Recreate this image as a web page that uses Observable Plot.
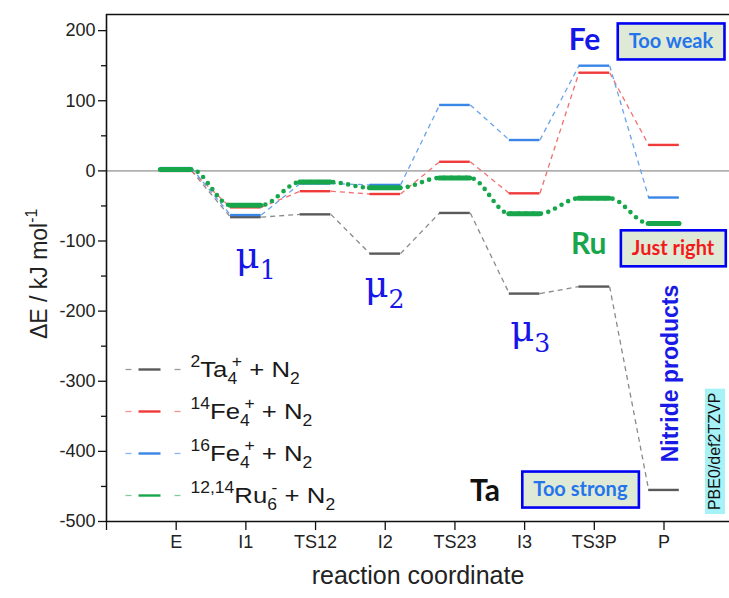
<!DOCTYPE html>
<html>
<head>
<meta charset="utf-8">
<script src="https://cdn.jsdelivr.net/npm/d3@7"></script>
<script src="https://cdn.jsdelivr.net/npm/@observablehq/plot@0.6"></script>
<style>
  html, body { margin: 0; padding: 0; background: #fff; }
  #chart svg { display: block; }
</style>
</head>
<body>
<div id="chart"></div>
<script>
// ---- data ----
const steps = ["E", "I1", "TS12", "I2", "TS23", "I3", "TS3P", "P"];
const ta   = [0, -66, -62, -118, -60, -175, -165, -455];
const fe14 = [0, -52, -29, -33, 13, -32, 140, 37];
const fe16 = [4, -63, -18, -20, 94, 44, 150, -38];
const ru   = [2, -49, -16, -24, -10, -61, -39, -75];
const seriesKeys = ["ta", "fe14", "fe16", "ru"];
const legendLabels = ["^{2}Ta_{4}^{+} + N_{2}", "^{14}Fe_{4}^{+} + N_{2}", "^{16}Fe_{4}^{+} + N_{2}", "^{12,14}Ru_{6}^{-} + N_{2}"];
const yTicks = [-500, -400, -300, -200, -100, 0, 100, 200];
const yMinor = [-450, -350, -250, -150, -50, 50, 150];
const xTicks = [0, 1, 2, 3, 4, 5, 6, 7, 8];

// ---- styles ----
const segColor  = {ta: "#5a5a5a", fe14: "#ee3a3a", fe16: "#3a86e6", ru: "#17a64b"};
const dashColor = {ta: "#8a8a8a", fe14: "#f07070", fe16: "#6aa2ec", ru: "#17a64b"};
const legendDash = {ta: "#9a9a9a", fe14: "#f59090", fe16: "#8ab6f0", ru: "#80cc9a"};
const W = 0.22;               // half width of a level bar (x units)
const yDomain = [-500, 223];
const xDomain = [0, 8.94];

const values = {ta, fe14, fe16, ru};
const levels = [];
const links = [];
const greenPath = [];
for (const k of seriesKeys) {
  const v = values[k];
  v.forEach((y, i) => {
    levels.push({k, x: i + 1, y});
    if (i < v.length - 1) links.push({k, x1: i + 1 + W, y1: y, x2: i + 2 - W, y2: v[i + 1]});
    if (k === "ru") { greenPath.push({x: i + 1 - W, y}); greenPath.push({x: i + 1 + W, y}); }
  });
}
const order = ["ta", "fe14", "fe16"];

const marks = [
  Plot.ruleY([0], {stroke: "#b0b0b0", strokeWidth: 1.6}),
];
for (const k of order) {
  marks.push(Plot.link(links.filter(d => d.k === k), {x1: "x1", y1: "y1", x2: "x2", y2: "y2",
    stroke: dashColor[k], strokeWidth: 1.3, strokeDasharray: "5,4"}));
}
for (const k of order) {
  marks.push(Plot.ruleY(levels.filter(d => d.k === k), {y: "y", x1: d => d.x - W, x2: d => d.x + W,
    stroke: segColor[k], strokeWidth: 2.4}));
}
marks.push(Plot.line(greenPath, {x: "x", y: "y", curve: "monotone-x", stroke: dashColor.ru,
  strokeWidth: 4.6, strokeDasharray: "0,7.5", strokeLinecap: "round"}));
marks.push(Plot.ruleY(levels.filter(d => d.k === "ru"), {y: "y", x1: d => d.x - W, x2: d => d.x + W,
  stroke: segColor.ru, strokeWidth: 5, strokeLinecap: "round"}));

// frame lines
marks.push(Plot.ruleX([xDomain[0]], {stroke: "#111", strokeWidth: 1.6}));
marks.push(Plot.ruleY([yDomain[0]], {stroke: "#111", strokeWidth: 1.6}));
marks.push(Plot.ruleY([yDomain[1]], {stroke: "#111", strokeWidth: 1.6}));

// axes
marks.push(Plot.axisY({ticks: yTicks, tickSize: 8, tickPadding: 3, fontSize: 18, label: null, stroke: "#111", strokeWidth: 1.3,
  tickFormat: d => String(d)}));
marks.push(Plot.axisY({ticks: yMinor, tickSize: 5, tickFormat: () => "", label: null, stroke: "#111", strokeWidth: 1.3}));
marks.push(Plot.axisX({ticks: xTicks, tickSize: 9, tickPadding: 5, fontSize: 18, label: null, stroke: "#111", strokeWidth: 1.3,
  tickFormat: d => d === 0 ? "" : steps[d - 1]}));

// axis titles
marks.push(Plot.text(["reaction coordinate"], {frameAnchor: "bottom", dy: 62, fontSize: 25, fill: "#222"}));
marks.push(Plot.text(["ΔE / kJ mol^{-1}"], {frameAnchor: "left", dx: -67, dy: 6, rotate: -90, textAnchor: "middle", lineAnchor: "middle", fontSize: 23, fill: "#222"}));

// legend text
legendLabels.forEach((t, i) => {
  marks.push(Plot.text([t], {frameAnchor: "top-left", dx: 84, dy: 355 + i * 42, textAnchor: "start", lineAnchor: "middle", fontSize: 23, fill: "#1a1a1a", className: "legend-text"}));
});

// annotations
marks.push(Plot.text(["Fe"], {x: 6.86, y: 186, fontSize: 30, fontWeight: "bold", fontFamily: "Lato", fill: "#1616e8"}));
marks.push(Plot.text(["Ru"], {x: 6.92, y: -105, fontSize: 30, fontWeight: "bold", fontFamily: "Lato", fill: "#17a64b"}));
marks.push(Plot.text(["Ta"], {x: 5.43, y: -457, fontSize: 30, fontWeight: "bold", fontFamily: "Lato", fill: "#111"}));
marks.push(Plot.text(["Too weak"], {x: 8.1, y: 184, fontSize: 20, fontWeight: "bold", fontFamily: "Lato", fill: "#2474ec", className: "boxed"}));
marks.push(Plot.text(["Just right"], {x: 8.13, y: -111, fontSize: 20, fontWeight: "bold", fontFamily: "Lato", fill: "#f21a1a", className: "boxed"}));
marks.push(Plot.text(["Too strong"], {x: 6.8, y: -455, fontSize: 20, fontWeight: "bold", fontFamily: "Lato", fill: "#2474ec", className: "boxed"}));
marks.push(Plot.text(["μ_{1}"], {x: 2.14, y: -121, fontSize: 37, fontFamily: "DejaVu Serif", fill: "#1616e8"}));
marks.push(Plot.text(["μ_{2}"], {x: 3.99, y: -163, fontSize: 37, fontFamily: "DejaVu Serif", fill: "#1616e8"}));
marks.push(Plot.text(["μ_{3}"], {x: 6.08, y: -225, fontSize: 37, fontFamily: "DejaVu Serif", fill: "#1616e8"}));
marks.push(Plot.text(["Nitride products"], {x: 8.1, y: -289, rotate: -90, fontSize: 23, fontWeight: "bold", fill: "#1a1ae6"}));
marks.push(Plot.text(["PBE0/def2TZVP"], {x: 8.73, y: -400, rotate: -90, fontSize: 16, fill: "#111", className: "cyan"}));

const chart = Plot.plot({
  width: 729,
  height: 598,
  marginTop: 14,
  marginBottom: 77,
  marginLeft: 106,
  marginRight: 0,
  x: {domain: xDomain, axis: null},
  y: {domain: yDomain, axis: null},
  style: {fontFamily: "'Liberation Sans', Arial, sans-serif", color: "#222", background: "#fff", overflow: "visible"},
  marks
});
document.getElementById("chart").appendChild(chart);

// ---- post: rich text (super/subscripts) ----
function richify(textEl) {
  const raw = textEl.textContent;
  if (!/[\^_]\{/.test(raw)) return;
  const fs = parseFloat(getComputedStyle(textEl).fontSize);
  const parts = [];
  const re = /([\^_])\{([^}]*)\}/g;
  let last = 0, m;
  while ((m = re.exec(raw))) {
    if (m.index > last) parts.push({t: raw.slice(last, m.index), k: ""});
    parts.push({t: m[2], k: m[1]});
    last = re.lastIndex;
  }
  if (last < raw.length) parts.push({t: raw.slice(last), k: ""});
  let baseDy = 0;
  const dyAttr = textEl.getAttribute("dy");
  if (dyAttr) {
    baseDy = dyAttr.endsWith("em") ? parseFloat(dyAttr) * fs : parseFloat(dyAttr);
    textEl.removeAttribute("dy");
  }
  while (textEl.firstChild) textEl.removeChild(textEl.firstChild);
  let cur = -baseDy;
  let prev = null, prevKind = "";
  for (const p of parts) {
    const target = p.k === "^" ? -0.42 * fs : p.k === "_" ? 0.3 * fs : 0;
    const ts = document.createElementNS("http://www.w3.org/2000/svg", "tspan");
    ts.setAttribute("dy", (target - cur).toFixed(2));
    if (p.k) ts.setAttribute("font-size", (0.68 * fs).toFixed(2));
    ts.textContent = p.t;
    textEl.appendChild(ts);
    if (p.k === "^" && prevKind === "_" && prev) {
      ts.setAttribute("dx", (-prev.getComputedTextLength() * 0.55).toFixed(2));
    }
    cur = target;
    prev = ts; prevKind = p.k;
  }
}
d3.select(chart).selectAll("text").each(function() { richify(this); });

// boxes
d3.select(chart).selectAll("g.boxed text").each(function() {
  const b = this.getBBox();
  const cy = b.y + b.height * 0.55;
  d3.select(this.parentNode).insert("rect", () => this)
    .attr("x", b.x - 11).attr("y", cy - 18).attr("width", b.width + 22).attr("height", 36)
    .attr("fill", "#dfead6").attr("stroke", "#0000f2").attr("stroke-width", 2.6)
    .attr("transform", this.getAttribute("transform"));
});
// cyan label background
d3.select(chart).selectAll("g.cyan text").each(function() {
  const b = this.getBBox();
  d3.select(this.parentNode).insert("rect", () => this)
    .attr("x", b.x - 4).attr("y", b.y - 1).attr("width", b.width + 8).attr("height", b.height + 3)
    .attr("fill", "#a6f2f6")
    .attr("transform", this.getAttribute("transform"));
});
// legend samples, then stretch legend text horizontally
d3.select(chart).selectAll("g.legend-text text").each(function(d, i) {
  const b = this.getBBox();
  const tr = this.getAttribute("transform") || "";
  const k = seriesKeys[i];
  const g = d3.select(this.parentNode).insert("g", () => this).attr("transform", tr);
  const ay = +(this.getAttribute("y") || 0);
  const yMid = ay - 1;
  const x0 = b.x;
  g.append("line").attr("x1", x0 - 65).attr("x2", x0 - 59).attr("y1", yMid).attr("y2", yMid)
    .attr("stroke", legendDash[k]).attr("stroke-width", 1.3);
  g.append("line").attr("x1", x0 - 16).attr("x2", x0 - 10).attr("y1", yMid).attr("y2", yMid)
    .attr("stroke", legendDash[k]).attr("stroke-width", 1.3);
  g.append("line").attr("x1", x0 - 52).attr("x2", x0 - 30).attr("y1", yMid).attr("y2", yMid)
    .attr("stroke", segColor[k]).attr("stroke-width", 2.4);
  const s = 1.12;
  if (tr) this.setAttribute("transform", tr + ` scale(${s},1)`);
  else {
    const x = +(this.getAttribute("x") || 0);
    this.setAttribute("transform", `translate(${x},0) scale(${s},1) translate(${-x},0)`);
  }
});
</script>
</body>
</html>
